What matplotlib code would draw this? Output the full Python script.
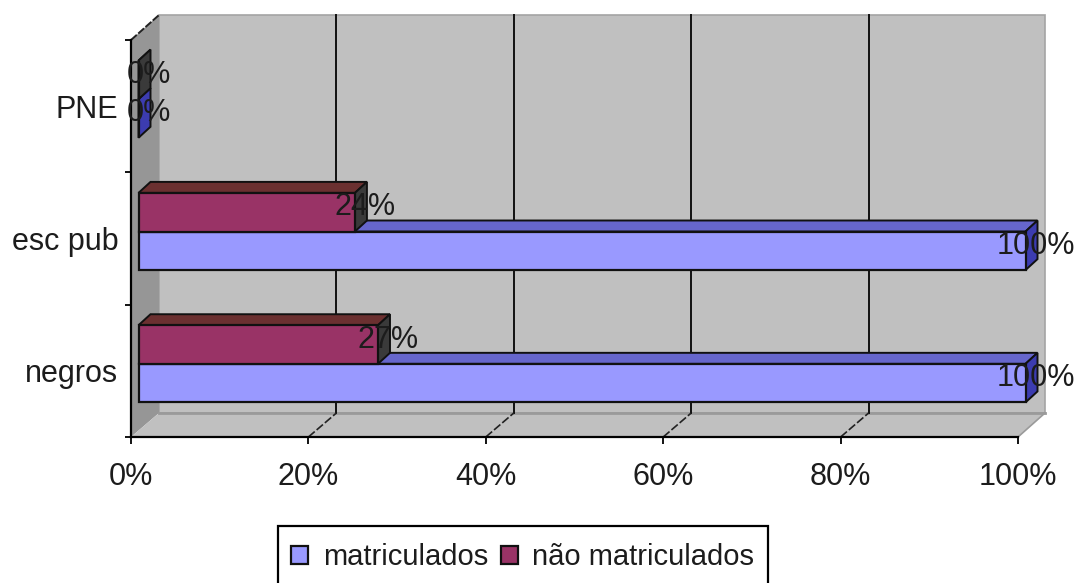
import matplotlib
matplotlib.use("Agg")
import matplotlib.pyplot as plt
from matplotlib.patches import Polygon, Rectangle
from matplotlib.transforms import Affine2D, IdentityTransform

categories = ["negros", "esc pub", "PNE"]
matriculados = [100, 100, 0]
nao_matriculados = [27, 24.4, 0]
series_names = ["matriculados", "não matriculados"]
xticks = [0, 20, 40, 60, 80, 100]

W, H = 1078, 583
FS = 22
LEG_FS = 21
TXT = "#1c1c1c"
plt.rcParams["font.family"] = ["Liberation Sans", "DejaVu Sans"]

fig = plt.figure(figsize=(W / 100, H / 100), dpi=100, facecolor="white")
L, R, T, B = 131, 1018, 40, 437
ax = fig.add_axes([L / W, 1 - B / H, (R - L) / W, (B - T) / H])
ax.set_xlim(0, 100)
ax.set_ylim(-0.5, 2.5)
ax.patch.set_visible(False)
for s in ax.spines.values():
    s.set_visible(False)

BAR_OFF = (7.5, 7)
DEPTH = (12, 11)
WALL = (28, 24)
HEIGHT = 38.5 / 132
identity = IdentityTransform()


def px(x, y):
    return ax.transData.transform((x, y))


def poly(points, color, edge="none", lw=0.0, z=1):
    ax.add_patch(Polygon(points, closed=True, facecolor=color, edgecolor=edge,
                         linewidth=lw, transform=identity, clip_on=False, zorder=z))


fl = px(0, -0.5)
fr = px(100, -0.5)
tl = px(0, 2.5)
back = lambda p: (p[0] + WALL[0], p[1] + WALL[1])
top_y = 1.0 * (H - 15)
wall_tl = (fl[0] + WALL[0], top_y)
wall_tr = (fr[0] + WALL[0] - 1, top_y)

# walls and floor
poly([back(fl), back((fr[0] - 1, fr[1])), wall_tr, wall_tl], "#c0c0c0", "#a4a4a4", 1.2)
poly([fl, tl, wall_tl, back(fl)], "#969696")
poly([fl, fr, back((fr[0] - 1, fr[1])), back(fl)], "#c0c0c0")
ax.plot([back(fl)[0], back(fr)[0] - 1], [back(fl)[1]] * 2, color="#9a9a9a", lw=2,
        transform=identity, zorder=1.5, clip_on=False)
ax.plot([fr[0], back(fr)[0] - 1], [fr[1], back(fr)[1]], color="#9a9a9a", lw=1.2,
        transform=identity, zorder=1.5, clip_on=False)
ax.plot([tl[0], wall_tl[0]], [tl[1], wall_tl[1]], color="#222222", lw=1.4, ls=(0, (4, 1)),
        transform=identity, zorder=1.5, clip_on=False)

# gridlines on the back wall and the floor
for v in xticks[1:-1]:
    f = px(v, -0.5)
    b = back(f)
    ax.plot([b[0], b[0]], [b[1], top_y], color="#111111", lw=1.4,
            transform=identity, zorder=2, clip_on=False)
    ax.plot([f[0], b[0]], [f[1], b[1]], color="#222222", lw=1.2, ls=(0, (5, 1.5)),
            transform=identity, zorder=2, clip_on=False)

ax.plot([0, 0], [-0.5, 2.5], color="black", lw=1.6, zorder=2.5, clip_on=False)
ax.plot([0, 100], [-0.5, -0.5], color="black", lw=1.6, zorder=2.5, clip_on=False)

bar_tr = ax.transData + Affine2D().translate(*BAR_OFF)


def draw_series(values, sign, front, top, side, name, z):
    for i, v in enumerate(values):
        yc = i + sign * HEIGHT / 2
        y0, y1 = yc - HEIGHT / 2, yc + HEIGHT / 2
        a = px(0, y1)
        b = px(v, y1)
        c = px(v, y0)
        o = lambda p, d=(0, 0): (p[0] + BAR_OFF[0] + d[0], p[1] + BAR_OFF[1] + d[1])
        poly([o(a), o(b), o(b, DEPTH), o(a, DEPTH)], top, "#111111", 1.4, z)
        poly([o(c), o(b), o(b, DEPTH), o(c, DEPTH)], side, "#111111", 1.4, z)
    ax.barh([i + sign * HEIGHT / 2 for i in range(len(values))], values, height=HEIGHT,
            color=front, edgecolor="#111111", linewidth=1.6, transform=bar_tr,
            zorder=z + 0.1, clip_on=False, label=name)


draw_series(matriculados, -1, "#9999ff", "#6666cc", "#3c3cb0", series_names[0], 3)
draw_series(nao_matriculados, 1, "#993366", "#6b3030", "#3a3a3a", series_names[1], 3.2)

for values, sign in ((matriculados, -1), (nao_matriculados, 1)):
    for i, v in enumerate(values):
        ax.annotate(f"{round(v)}%", xy=(v, i + sign * HEIGHT / 2), xytext=(18 * .72, 12 * .72),
                    textcoords="offset points", ha="center", va="center",
                    fontsize=FS, color=TXT, zorder=6, annotation_clip=False)

# axes ticks
ax.set_xticks(xticks)
ax.set_xticklabels([f"{v}%" for v in xticks], fontsize=FS, color=TXT)
ax.tick_params(axis="x", length=5, width=1.3, color="black", pad=13)
ax.set_yticks([-0.5, 0.5, 1.5, 2.5])
ax.set_yticklabels([])
ax.tick_params(axis="y", which="major", length=4, width=1.3, color="black")
ax.set_yticks(range(len(categories)), minor=True)
ax.set_yticklabels(categories, minor=True, fontsize=FS, color=TXT)
ax.tick_params(axis="y", which="minor", length=0, pad=9)

# legend box runs past the bottom edge of the picture, as in the reference
fig.add_artist(Rectangle((278 / W, 1 - 600 / H), 490 / W, 74 / H, transform=fig.transFigure,
                         facecolor="white", edgecolor="black", linewidth=1.6, zorder=-1))
handles, labels = ax.get_legend_handles_labels()
leg = ax.legend(handles, labels, ncol=2, loc="upper left",
                bbox_to_anchor=(278 / W, 1 - 530 / H), bbox_transform=fig.transFigure,
                fontsize=LEG_FS, frameon=False,
                borderpad=0.45, borderaxespad=0, handlelength=0.58, handleheight=0.6,
                handletextpad=0.5, columnspacing=0.45, labelcolor=TXT)

fig.savefig("out.png", dpi=100)
